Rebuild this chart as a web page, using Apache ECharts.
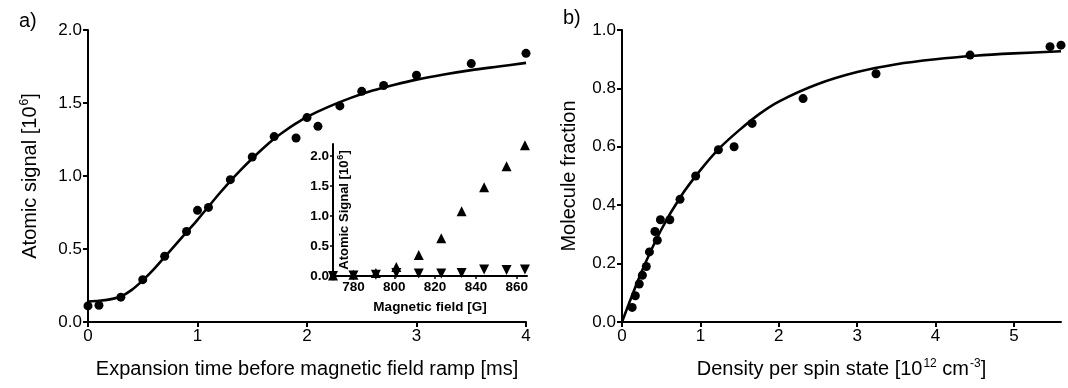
<!DOCTYPE html>
<html><head><meta charset="utf-8">
<script src="https://cdn.jsdelivr.net/npm/echarts@6/dist/echarts.min.js"></script>
<style>html,body{margin:0;padding:0;background:#fff}#c{width:1068px;height:388px}</style>
</head><body><div id="c"></div>
<script>
// Panel a: atomic signal vs expansion time
const timeMs = [0, 0.1, 0.3, 0.5, 0.7, 0.9, 1.0, 1.1, 1.3, 1.5, 1.7, 1.9, 2.0, 2.1, 2.3, 2.5, 2.7, 3.0, 3.5, 4.0];
const atomicSignal = [0.11, 0.115, 0.17, 0.29, 0.45, 0.62, 0.765, 0.785, 0.975, 1.13, 1.27, 1.26, 1.40, 1.34, 1.48, 1.58, 1.62, 1.69, 1.77, 1.84];
const fitTimeMs = [0, 0.1, 0.2, 0.3, 0.4, 0.5, 0.6, 0.7, 0.8, 0.9, 1.0, 1.1, 1.2, 1.3, 1.4, 1.5, 1.6, 1.7, 1.8, 1.9, 2.0, 2.2, 2.4, 2.6, 2.8, 3.0, 3.25, 3.5, 3.75, 4.0];
const fitAtomicSignal = [0.14, 0.145, 0.155, 0.175, 0.22, 0.285, 0.36, 0.445, 0.53, 0.615, 0.70, 0.79, 0.88, 0.965, 1.045, 1.12, 1.19, 1.255, 1.31, 1.36, 1.405, 1.475, 1.535, 1.585, 1.625, 1.66, 1.695, 1.725, 1.75, 1.775];
const timeTicks = [0, 1, 2, 3, 4];
const signalTicks = [0, 0.5, 1.0, 1.5, 2.0];

// Inset: atomic signal vs magnetic field
const fieldG = [770, 780, 791, 801, 812, 823, 833, 844, 855, 864];
const signalUp = [0.01, 0.02, 0.05, 0.15, 0.35, 0.63, 1.08, 1.48, 1.83, 2.18];
const signalDown = [0.0, 0.01, 0.02, 0.05, 0.04, 0.04, 0.05, 0.11, 0.10, 0.11];
const fieldTicks = [780, 800, 820, 840, 860];
const insetSignalTicks = [0, 0.5, 1.0, 1.5, 2.0];

// Panel b: molecule fraction vs density
const density = [0.13, 0.17, 0.22, 0.26, 0.31, 0.35, 0.42, 0.45, 0.49, 0.61, 0.74, 0.94, 1.23, 1.43, 1.66, 2.31, 3.24, 4.44, 5.46, 5.6];
const moleculeFraction = [0.05, 0.09, 0.13, 0.16, 0.19, 0.24, 0.31, 0.28, 0.35, 0.35, 0.42, 0.50, 0.59, 0.60, 0.68, 0.765, 0.85, 0.914, 0.943, 0.948];
const fitDensity = [0, 0.25, 0.5, 0.75, 1, 1.25, 1.5, 1.75, 2, 2.5, 3, 3.5, 4, 4.5, 5, 5.6];
const fitFraction = [0, 0.172, 0.316, 0.43, 0.52, 0.597, 0.658, 0.712, 0.755, 0.815, 0.856, 0.883, 0.900, 0.912, 0.920, 0.927];
const densityTicks = [0, 1, 2, 3, 4, 5];
const fractionTicks = [0, 0.2, 0.4, 0.6, 0.8, 1.0];

const FONT = '"Liberation Sans", Arial, sans-serif';
const BLACK = '#000';
const TITLE_SIZE = 20;
const zip = (a, b) => a.map((v, i) => [v, b[i]]);

function axisBase(o) {
  return Object.assign({
    type: 'value',
    splitLine: { show: false },
    axisLine: { show: true, onZero: false, lineStyle: { color: BLACK, width: 2 } },
    nameTextStyle: { color: BLACK, fontSize: TITLE_SIZE, fontFamily: FONT }
  }, o);
}
function mainLabel(vals, fmt) {
  const l = { color: BLACK, fontSize: 17, fontFamily: FONT, margin: 6, customValues: vals };
  if (fmt) l.formatter = fmt;
  return l;
}
function mainTick(vals) {
  return { show: true, length: 5, lineStyle: { color: BLACK, width: 2 }, customValues: vals };
}
const mainRich = {
  n: { fontSize: TITLE_SIZE, fontFamily: FONT, color: BLACK },
  s: { fontSize: 12, fontFamily: FONT, color: BLACK, padding: [0, 0, 11, 1], verticalAlign: 'bottom' }
};
const insetRich = {
  n: { fontSize: 13, fontFamily: FONT, color: BLACK, fontWeight: 'bold' },
  s: { fontSize: 9, fontFamily: FONT, color: BLACK, fontWeight: 'bold', padding: [0, 0, 7, 1], verticalAlign: 'bottom' }
};
const fmt1 = v => v.toFixed(1);
const markStyle = { color: BLACK, opacity: 1 };

const option = {
  animation: false,
  backgroundColor: '#fff',
  title: [
    { text: 'a)', left: 14, top: 6, textStyle: { fontSize: 20, fontWeight: 'normal', color: BLACK, fontFamily: FONT } },
    { text: 'b)', left: 558, top: 3, textStyle: { fontSize: 20, fontWeight: 'normal', color: BLACK, fontFamily: FONT } }
  ],
  grid: [
    { left: 88, top: 30, width: 438, height: 292 },
    { left: 333, top: 144, width: 194, height: 132 },
    { left: 622, top: 30, width: 439, height: 292 }
  ],
  xAxis: [
    axisBase({ gridIndex: 0, min: 0, max: 4,
      axisLabel: mainLabel(timeTicks), axisTick: mainTick(timeTicks),
      name: 'Expansion time before magnetic field ramp [ms]', nameLocation: 'middle', nameGap: 37 }),
    axisBase({ gridIndex: 1, min: 770, max: 865,
      axisLabel: { color: BLACK, fontSize: 13.5, fontWeight: 'bold', fontFamily: FONT, margin: 4, customValues: fieldTicks },
      axisTick: { show: true, length: 3, lineStyle: { color: BLACK, width: 1.5 }, customValues: fieldTicks },
      name: 'Magnetic field [G]', nameLocation: 'middle', nameGap: 24,
      nameTextStyle: { color: BLACK, fontSize: 13.5, fontWeight: 'bold', fontFamily: FONT } }),
    axisBase({ gridIndex: 2, min: 0, max: 5.6,
      axisLabel: mainLabel(densityTicks), axisTick: mainTick(densityTicks),
      name: '{n|Density per spin state [10}{s|12}{n| cm}{s|-3}{n|]}', nameLocation: 'middle', nameGap: 36,
      nameTextStyle: { rich: mainRich } })
  ],
  yAxis: [
    axisBase({ gridIndex: 0, min: 0, max: 2,
      axisLabel: mainLabel(signalTicks, fmt1), axisTick: mainTick(signalTicks),
      name: '{n|Atomic signal [10}{s|6}{n|]}', nameLocation: 'middle', nameGap: 46,
      nameTextStyle: { rich: mainRich } }),
    axisBase({ gridIndex: 1, min: 0, max: 2.2,
      axisLabel: { color: BLACK, fontSize: 13.5, fontWeight: 'bold', fontFamily: FONT, margin: 4, customValues: insetSignalTicks, formatter: fmt1 },
      axisTick: { show: true, length: 3, lineStyle: { color: BLACK, width: 1.5 }, customValues: insetSignalTicks },
      name: '{n|Atomic Signal [10}{s|6}{n|]}', nameLocation: 'middle', nameGap: -19,
      nameTextStyle: { rich: insetRich } }),
    axisBase({ gridIndex: 2, min: 0, max: 1,
      axisLabel: mainLabel(fractionTicks, fmt1), axisTick: mainTick(fractionTicks),
      name: 'Molecule fraction', nameLocation: 'middle', nameGap: 43 })
  ],
  series: [
    { type: 'line', xAxisIndex: 0, yAxisIndex: 0, data: zip(fitTimeMs, fitAtomicSignal), smooth: 0.3, showSymbol: false,
      lineStyle: { color: BLACK, width: 2.6 }, silent: true },
    { type: 'scatter', xAxisIndex: 0, yAxisIndex: 0, data: zip(timeMs, atomicSignal), symbolSize: 9, clip: false,
      itemStyle: markStyle },
    { type: 'scatter', xAxisIndex: 1, yAxisIndex: 1, data: zip(fieldG, signalUp), symbol: 'triangle', symbolSize: 10, clip: false,
      itemStyle: markStyle },
    { type: 'scatter', xAxisIndex: 1, yAxisIndex: 1, data: zip(fieldG, signalDown), symbol: 'triangle', symbolRotate: 180, symbolSize: 10, clip: false,
      itemStyle: markStyle },
    { type: 'line', xAxisIndex: 2, yAxisIndex: 2, data: zip(fitDensity, fitFraction), smooth: 0.3, showSymbol: false,
      lineStyle: { color: BLACK, width: 2.6 }, silent: true },
    { type: 'scatter', xAxisIndex: 2, yAxisIndex: 2, data: zip(density, moleculeFraction), symbolSize: 9, clip: false,
      itemStyle: markStyle }
  ]
};
const chart = echarts.init(document.getElementById('c'), null, { renderer: 'canvas' });
chart.setOption(option);
</script></body></html>
